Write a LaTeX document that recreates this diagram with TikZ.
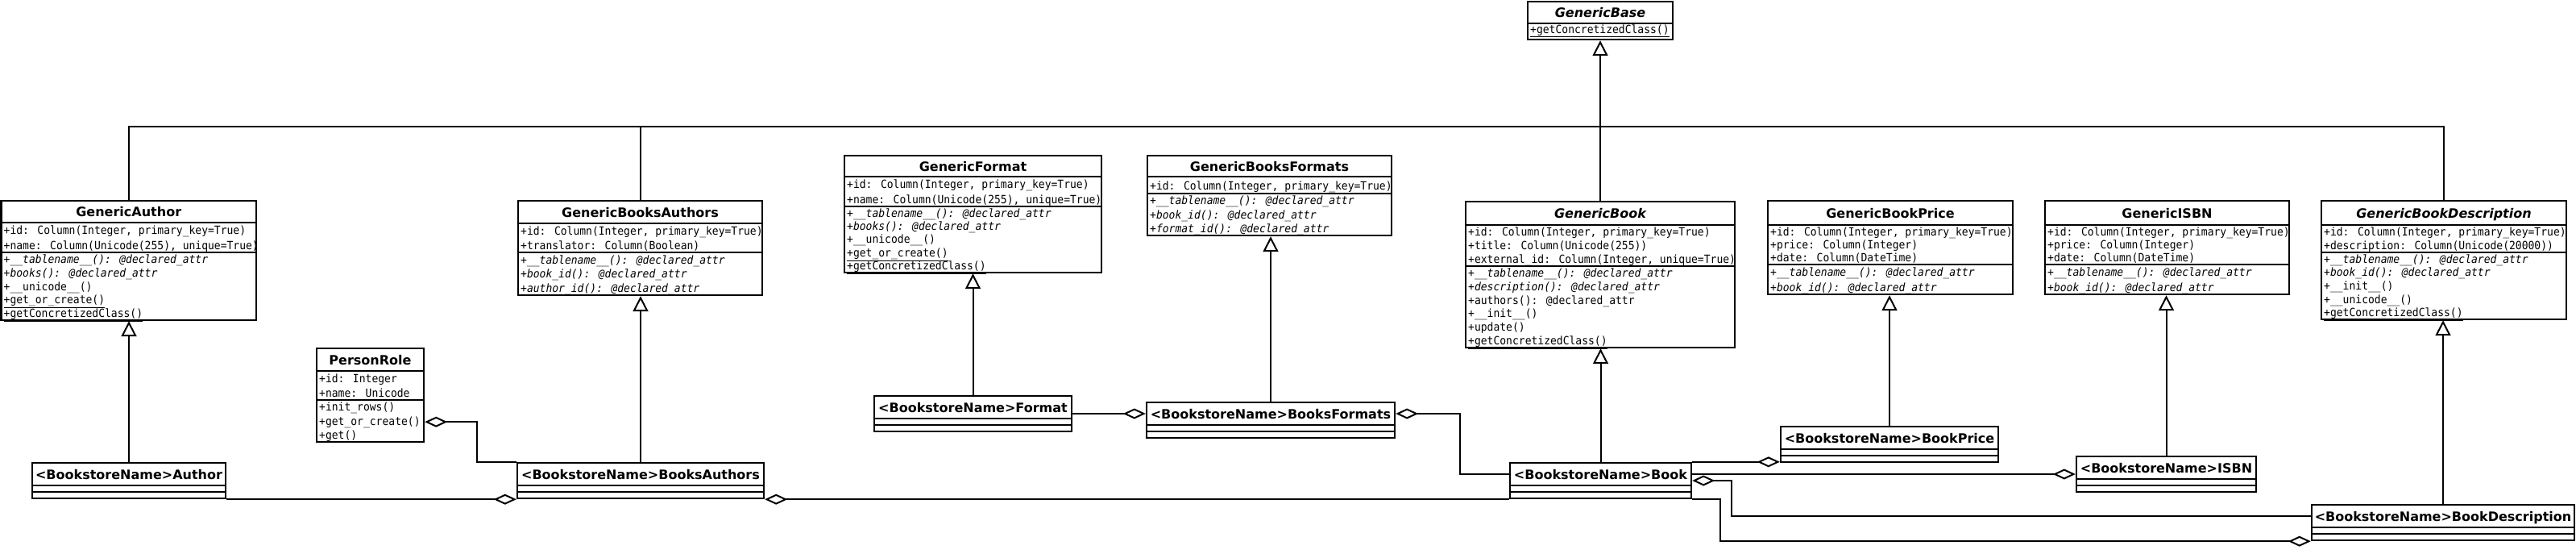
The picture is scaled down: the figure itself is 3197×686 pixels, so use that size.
\documentclass[tikz,border=0pt]{standalone}
\usepackage{fontspec}
\setmainfont{DejaVu Sans}
\newfontfamily\monof{DejaVu Sans Mono}
\usetikzlibrary{arrows.meta,fit}
\tikzset{
  cls/.style={draw, line width=2.4pt, inner sep=0pt, fill=white},
  sepl/.style={line width=2.2pt},
  ttl/.style={font=\fontsize{16}{19}\selectfont\bfseries, inner sep=0pt, anchor=base},
  mem/.style={font=\monof\fontsize{14}{16}\selectfont, inner sep=0pt, anchor=base west},
  conn/.style={line width=2pt},
  gen/.style={conn, -{Triangle[open, fill=white, length=19pt, width=19pt]}},
  aggE/.style={conn, -{Diamond[open, fill=white, length=28pt, width=13pt]}},
  aggS/.style={conn, {Diamond[open, fill=white, length=28pt, width=13pt]}-},
}
\newcommand\umlclass[7]{%
  \node[cls, fit={(#2,#3) (#4,#5)}] (#1) {};
  \node[ttl] (#1-t) at ({(#2+#4)/2}, {(#3+#7)/2+6}) {#6};
  \draw[sepl] (#2,#7) -- (#4,#7);
}
\newcommand\implclass[6]{%
  \node[cls, fit={(#2,#3) (#4,#5)}] (#1) {};
  \node[ttl] (#1-t) at ({(#2+#4)/2}, {#3+20}) {#6};
  \draw[sepl] (#2,{#3+28}) -- (#4,{#3+28});
  \draw[sepl] (#2,{#3+36}) -- (#4,{#3+36});
}
\newcommand\members[5]{%
  \foreach \mtxt [count=\mi from 0] in {#5} {
    \node[mem] (#1-\mi) at ({#2+3}, {#3+(\mi+0.8)*#4}) {\scalebox{0.93}[1]{\mtxt}};
  }
}
\begin{document}
\begin{tikzpicture}[x=1pt,y=-1pt]
\fill[white] (0,0) rectangle (3197,686);
\useasboundingbox (0,0) rectangle (3197,686);

% GenericBase
\umlclass{gbase}{1896}{2}{2076}{49}{\itshape GenericBase}{29}
\members{gbasem}{1896}{29}{15}{{\underline{+getConcretizedClass()}}}

% GenericAuthor
\umlclass{gauth}{1.5}{249}{318}{397}{GenericAuthor}{276}
\draw[sepl] (1.5,313) -- (318,313);
\members{gautha}{1.5}{276}{18.5}{{+id: Column(Integer, primary\_key=True)},{+name: Column(Unicode(255), unique=True)}}
\members{gauthm}{1.5}{313}{16.8}{{\itshape +\_\_tablename\_\_(): @declared\_attr},{\itshape +books(): @declared\_attr},{+\_\_unicode\_\_()},{\underline{+get\_or\_create()}},{\underline{+getConcretizedClass()}}}

% GenericBooksAuthors
\umlclass{gba}{643}{249}{946}{366}{GenericBooksAuthors}{277}
\draw[sepl] (643,313) -- (946,313);
\members{gbaa}{643}{277}{18}{{+id: Column(Integer, primary\_key=True)},{+translator: Column(Boolean)}}
\members{gbam}{643}{313}{17.7}{{\itshape +\_\_tablename\_\_(): @declared\_attr},{\itshape +book\_id(): @declared\_attr},{\itshape +author\_id(): @declared\_attr}}

% GenericFormat
\umlclass{gf}{1048}{193}{1367}{338}{GenericFormat}{219}
\draw[sepl] (1048,256) -- (1367,256);
\members{gfa}{1048}{219}{18.5}{{+id: Column(Integer, primary\_key=True)},{+name: Column(Unicode(255), unique=True)}}
\members{gfm}{1048}{256}{16.4}{{\itshape +\_\_tablename\_\_(): @declared\_attr},{\itshape +books(): @declared\_attr},{+\_\_unicode\_\_()},{\underline{+get\_or\_create()}},{\underline{+getConcretizedClass()}}}

% GenericBooksFormats
\umlclass{gbf}{1424}{193}{1727}{292}{GenericBooksFormats}{219}
\draw[sepl] (1424,240) -- (1727,240);
\members{gbfa}{1424}{219}{21}{{+id: Column(Integer, primary\_key=True)}}
\members{gbfm}{1424}{240}{17.3}{{\itshape +\_\_tablename\_\_(): @declared\_attr},{\itshape +book\_id(): @declared\_attr},{\itshape +format\_id(): @declared\_attr}}

% GenericBook
\umlclass{gbook}{1819}{250}{2153}{431}{\itshape GenericBook}{279}
\draw[sepl] (1819,330) -- (2153,330);
\members{gbooka}{1819}{279}{17}{{+id: Column(Integer, primary\_key=True)},{+title: Column(Unicode(255))},{+external\_id: Column(Integer, unique=True)}}
\members{gbookm}{1819}{330}{16.8}{{\itshape +\_\_tablename\_\_(): @declared\_attr},{\itshape +description(): @declared\_attr},{+authors(): @declared\_attr},{+\_\_init\_\_()},{+update()},{\underline{+getConcretizedClass()}}}

% GenericBookPrice
\umlclass{gbp}{2194}{249}{2498}{365}{GenericBookPrice}{279}
\draw[sepl] (2194,328) -- (2498,328);
\members{gbpa}{2194}{279}{16.3}{{+id: Column(Integer, primary\_key=True)},{+price: Column(Integer)},{+date: Column(DateTime)}}
\members{gbpm}{2194}{328}{18.5}{{\itshape +\_\_tablename\_\_(): @declared\_attr},{\itshape +book\_id(): @declared\_attr}}

% GenericISBN
\umlclass{gisbn}{2538}{249}{2841}{365}{GenericISBN}{279}
\draw[sepl] (2538,328) -- (2841,328);
\members{gisbna}{2538}{279}{16.3}{{+id: Column(Integer, primary\_key=True)},{+price: Column(Integer)},{+date: Column(DateTime)}}
\members{gisbnm}{2538}{328}{18.5}{{\itshape +\_\_tablename\_\_(): @declared\_attr},{\itshape +book\_id(): @declared\_attr}}

% GenericBookDescription
\umlclass{gbd}{2881}{249}{3185}{396}{\itshape GenericBookDescription}{279}
\draw[sepl] (2881,313) -- (3185,313);
\members{gbda}{2881}{279}{17}{{+id: Column(Integer, primary\_key=True)},{+description: Column(Unicode(20000))}}
\members{gbdm}{2881}{313}{16.6}{{\itshape +\_\_tablename\_\_(): @declared\_attr},{\itshape +book\_id(): @declared\_attr},{+\_\_init\_\_()},{+\_\_unicode\_\_()},{\underline{+getConcretizedClass()}}}

% PersonRole
\umlclass{pr}{393}{432}{526}{548}{PersonRole}{460}
\draw[sepl] (393,496) -- (526,496);
\members{pra}{393}{460}{18}{{+id: Integer},{+name: Unicode}}
\members{prm}{393}{496}{17.3}{{+init\_rows()},{+get\_or\_create()},{+get()}}

% Implementation classes
\implclass{ba}{40}{574}{280}{618}{<BookstoreName>Author}
\implclass{bba}{642}{574}{948}{618}{<BookstoreName>BooksAuthors}
\implclass{bf}{1085}{491}{1330}{535}{<BookstoreName>Format}
\implclass{bbf}{1423}{499}{1731}{543}{<BookstoreName>BooksFormats}
\implclass{bb}{1874}{574}{2099}{618}{<BookstoreName>Book}
\implclass{bbp}{2210}{529}{2480}{573}{<BookstoreName>BookPrice}
\implclass{bisbn}{2577}{566}{2800}{610}{<BookstoreName>ISBN}
\implclass{bbd}{2869}{626}{3195}{670}{<BookstoreName>BookDescription}

% Generalization bus to GenericBase
\coordinate (bus) at (1986,157);
\draw[conn] (gauth.north) |- (bus);
\draw[conn] (gba.north) |- (bus);
\draw[conn] (gbd.north) |- (bus);
\draw[conn] (gbook.north) -- (bus);
\draw[gen] (bus) -- (gbase.south);

% Generalizations
\draw[gen] (ba.north) -- (ba.north |- gauth.south);
\draw[gen] (bba.north) -- (bba.north |- gba.south);
\draw[gen] (bf.north) -- (bf.north |- gf.south);
\draw[gen] (bbf.north) -- (bbf.north |- gbf.south);
\draw[gen] (bb.north) -- (bb.north |- gbook.south);
\draw[gen] (bbp.north) -- (bbp.north |- gbp.south);
\draw[gen] (bisbn.north) -- (bisbn.north |- gisbn.south);
\draw[gen] (bbd.north) -- (bbd.north |- gbd.south);

% Aggregations
\draw[aggE] (ba.south east) -- (bba.south west);
\draw[aggS] (bba.south east) -- (bb.south west);
\coordinate (prR) at ([yshift=26pt]pr.south east);
\draw[aggS] (prR) -- ++(65,0) |- (bba.north west);
\coordinate (bbfL) at ([yshift=8pt]bbf.west);
\draw[aggE] (bf.east |- bbfL) -- (bbfL);
\coordinate (bbfR) at ([yshift=8pt]bbf.east);
\coordinate (bbL) at ([yshift=8pt]bb.west);
\draw[aggS] (bbfR) -- ++(80,0) |- (bbL);
\draw[aggE] (bb.north east) -- (bb.north east -| bbp.south west);
\coordinate (bbR) at ([yshift=8pt]bb.east);
\draw[aggE] (bbR) -- (bbR -| bisbn.west);
\coordinate (bbdL) at ([yshift=8pt]bbd.west);
\draw[aggS] (bb.east) -- ++(49,0) |- (bbdL);
\draw[aggE] (bb.south east) -- ++(35,0) |- (bbd.south west);
\end{tikzpicture}
\end{document}
